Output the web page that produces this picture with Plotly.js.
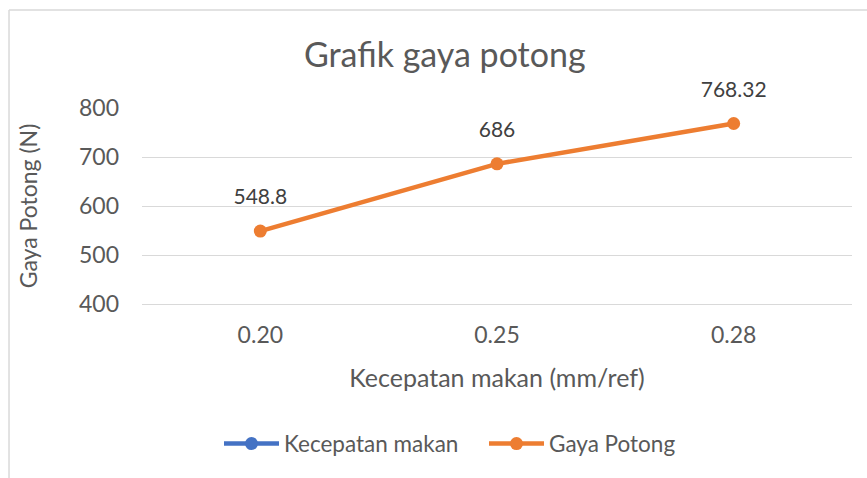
<!DOCTYPE html>
<html>
<head>
<meta charset="utf-8">
<script src="https://cdn.plot.ly/plotly-3.0.1.min.js"></script>
<style>
html,body{margin:0;padding:0;background:#fff;}
#chart{width:867px;height:478px;}
</style>
</head>
<body>
<div id="chart"></div>
<script>
var categories = ["0.20", "0.25", "0.28"];
var kecepatanMakan = [0.20, 0.25, 0.28];
var gayaPotong = [548.8, 686, 768.32];
var gayaPotongLabels = ["548.8", "686", "768.32"];
var yTicks = [400, 500, 600, 700, 800];

var FONT = "Lato, 'Open Sans', sans-serif";

var traces = [
  {
    x: categories, y: kecepatanMakan, name: "Kecepatan makan",
    type: "scatter", mode: "lines+markers",
    line: {color: "#4472C4", width: 4.5},
    marker: {color: "#4472C4", size: 13},
    cliponaxis: true, hoverinfo: "skip"
  },
  {
    x: categories, y: gayaPotong, name: "Gaya Potong",
    type: "scatter", mode: "lines+markers",
    line: {color: "#ED7D31", width: 4.5},
    marker: {color: "#ED7D31", size: 13},
    cliponaxis: false, hoverinfo: "skip"
  },
  {
    x: categories, y: gayaPotong, name: "labels", showlegend: false,
    type: "scatter", mode: "markers+text",
    text: gayaPotongLabels, textposition: "top center",
    textfont: {family: FONT, size: 21, color: "#404040"},
    marker: {color: "rgba(0,0,0,0)", size: 33},
    cliponaxis: false, hoverinfo: "skip"
  }
];

var layout = {
  width: 867, height: 478,
  margin: {l: 142, r: 15, t: 108, b: 174},
  paper_bgcolor: "#ffffff", plot_bgcolor: "#ffffff",
  font: {family: FONT, color: "#595959", size: 22},
  title: {
    text: "Grafik gaya potong",
    font: {family: FONT, size: 34, color: "#595959"},
    x: 0.513, xanchor: "center", xref: "container",
    y: 1 - 55/478, yanchor: "middle", yref: "container"
  },
  xaxis: {
    type: "category", range: [-0.5, 2.5],
    showgrid: false, showline: true, linecolor: "#d9d9d9", linewidth: 1,
    ticks: "", tickfont: {family: FONT, size: 23, color: "#595959"},
    ticklabelstandoff: 10,
    title: {text: "Kecepatan makan (mm/ref)", font: {family: FONT, size: 25, color: "#595959"}, standoff: 22},
    automargin: false, fixedrange: true
  },
  yaxis: {
    range: [400, 800], tickvals: yTicks, ticktext: yTicks.map(String),
    showgrid: true, gridcolor: "#d9d9d9", gridwidth: 1,
    zeroline: false, showline: false, ticks: "",
    tickfont: {family: FONT, size: 23, color: "#595959"},
    ticklabelstandoff: 22,
    title: {text: "Gaya Potong (N)", font: {family: FONT, size: 23, color: "#595959"}, standoff: 34},
    automargin: false, fixedrange: true
  },
  showlegend: true,
  legend: {
    orientation: "h", x: 0.4817, xanchor: "center",
    y: -0.714, yanchor: "middle",
    font: {family: FONT, size: 22.5, color: "#595959"},
    itemwidth: 55, entrywidth: 195, entrywidthmode: "pixels", tracegroupgap: 0
  },
  shapes: [
    {type: "line", xref: "paper", yref: "paper", x0: -0.1873, x1: 1.3, y0: 1.5, y1: 1.5,
     line: {color: "#d9d9d9", width: 1.5}},
    {type: "line", xref: "paper", yref: "paper", x0: -0.1873, x1: -0.1873, y0: 1.5, y1: -1.2,
     line: {color: "#d9d9d9", width: 1.5}}
  ]
};

Plotly.newPlot("chart", traces, layout, {displayModeBar: false, staticPlot: true});
</script>
</body>
</html>
